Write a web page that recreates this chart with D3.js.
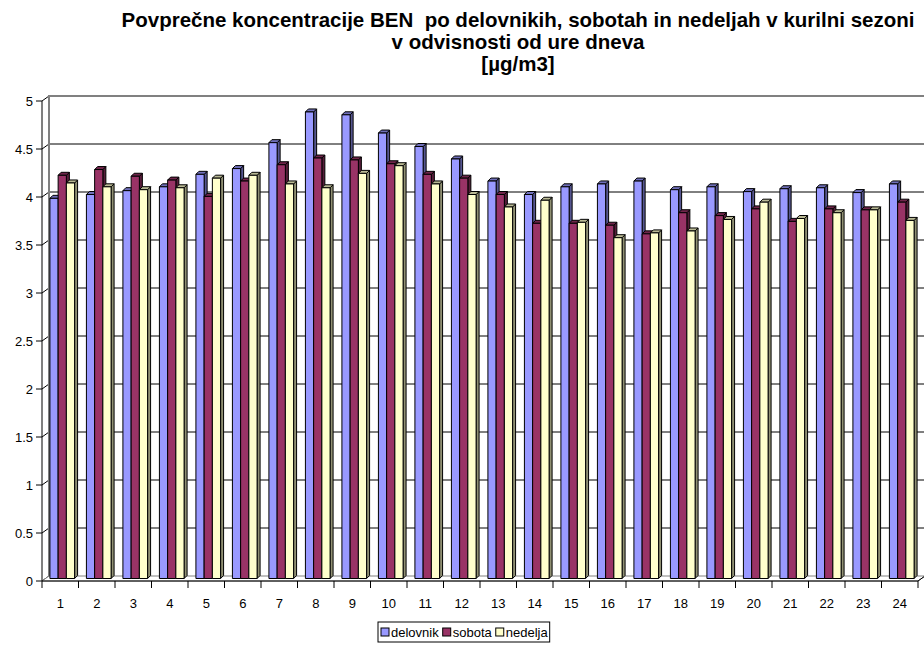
<!DOCTYPE html>
<html><head><meta charset="utf-8">
<script src="https://cdn.jsdelivr.net/npm/d3@7/dist/d3.min.js"></script>
<style>body{margin:0;background:#fff}svg{display:block;font-family:"Liberation Sans",Arial,sans-serif}</style>
</head><body><svg id="c" width="924" height="648"></svg>
<script>
const hours = ["1","2","3","4","5","6","7","8","9","10","11","12","13","14","15","16","17","18","19","20","21","22","23","24"];
const seriesNames = ["delovnik","sobota","nedelja"];
const delovnik = [3.96,4.00,4.04,4.08,4.21,4.27,4.54,4.86,4.83,4.64,4.50,4.37,4.14,4.00,4.08,4.11,4.14,4.05,4.08,4.03,4.06,4.07,4.02,4.11];
const sobota   = [4.20,4.26,4.19,4.15,3.98,4.14,4.31,4.38,4.36,4.32,4.21,4.17,4.00,3.70,3.70,3.68,3.59,3.81,3.78,3.85,3.72,3.85,3.84,3.92];
const nedelja  = [4.12,4.08,4.05,4.07,4.17,4.20,4.11,4.07,4.22,4.30,4.11,4.00,3.87,3.94,3.71,3.55,3.60,3.62,3.74,3.92,3.75,3.81,3.84,3.73];
const yTicks = [0,0.5,1,1.5,2,2.5,3,3.5,4,4.5,5];
const colors = ["#9999FF","#993366","#FFFFCC"];
const titleLines = ["Povprečne koncentracije BEN  po delovnikih, sobotah in nedeljah v kurilni sezoni","v odvisnosti od ure dneva","[µg/m3]"];

const svg = d3.select("#c");
const X0 = 42, X1 = 918, Y0 = 581, Y5 = 101;
const DX = 7, DY = -5;          // full depth of the 3D plot
const BDX = 3, BDY = -3;        // bar depth
const BOFF = 2, BOFFY = -2.5;   // bar front-face offset into depth

const yFront = d3.scaleLinear().domain([0,5]).range([Y0, Y5]);
const yBar = d3.scaleLinear().domain([0,5]).range([Y0 + BOFFY, Y5 + BOFFY]);
const x = d3.scaleBand().domain(hours).range([X0, X1]).padding(0);
const xs = d3.scaleBand().domain(seriesNames).range([0, x.bandwidth()]).paddingInner(0).paddingOuter(0.72);

// title
const tt = svg.append("g").attr("font-weight","bold").attr("font-size",20.5).attr("text-anchor","middle").attr("fill","#000").style("white-space","pre");
titleLines.forEach((t,i)=> tt.append("text").attr("x",518).attr("y",27 + i*22).attr("xml:space","preserve").text(t));

// back wall gridlines
const g = svg.append("g");
yTicks.forEach(v=>{
  const yf = yFront(v);
  g.append("line").attr("x1",X0).attr("y1",yf).attr("x2",X0+DX).attr("y2",yf+DY).attr("stroke","#000").attr("stroke-width",1);
  if (v>0 && v<5) g.append("line").attr("x1",X0+DX).attr("y1",yf+DY).attr("x2",X1+DX).attr("y2",yf+DY).attr("stroke","#000").attr("stroke-width",1);
});
// floor
g.append("path").attr("d",`M${X0},${Y0}L${X1},${Y0}L${X1+DX},${Y0+DY}L${X0+DX},${Y0+DY}Z`).attr("fill","#fff").attr("stroke","#808080").attr("stroke-width",1);
// back wall border
g.append("path").attr("d",`M${X0+DX},${Y0+DY}L${X0+DX},${Y5+DY}L${X1+DX},${Y5+DY}L${X1+DX},${Y0+DY}`).attr("fill","none").attr("stroke","#808080").attr("stroke-width",2);

// bars
const data = [delovnik, sobota, nedelja];
const bars = svg.append("g").attr("stroke","#000").attr("stroke-width",1).attr("stroke-linejoin","round");
hours.forEach((h,i)=>{
  seriesNames.forEach((s,j)=>{
    const v = data[j][i];
    const c = d3.color(colors[j]);
    const xl = x(h) + xs(s) + BOFF, w = xs.bandwidth();
    const yt = yBar(v), yb = yBar(0);
    bars.append("path").attr("d",`M${xl+w},${yb}L${xl+w+BDX},${yb+BDY}L${xl+w+BDX},${yt+BDY}L${xl+w},${yt}Z`).attr("fill",c.darker(1.6));
    bars.append("path").attr("d",`M${xl},${yt}L${xl+BDX},${yt+BDY}L${xl+w+BDX},${yt+BDY}L${xl+w},${yt}Z`).attr("fill",c.darker(0.9));
    bars.append("rect").attr("x",xl).attr("y",yt).attr("width",w).attr("height",yb-yt).attr("fill",colors[j]);
  });
});

// front axes
const ax = svg.append("g").attr("font-size",13).attr("fill","#000");
ax.append("line").attr("x1",X0).attr("y1",Y5).attr("x2",X0).attr("y2",Y0).attr("stroke","#000");
yTicks.forEach(v=>{
  const yf = yFront(v);
  ax.append("line").attr("x1",X0-6).attr("y1",yf).attr("x2",X0).attr("y2",yf).attr("stroke","#000");
  ax.append("text").attr("x",X0-9).attr("y",yf+4.5).attr("text-anchor","end").text(d3.format("")(v));
});
ax.append("line").attr("x1",X0).attr("y1",Y0).attr("x2",X1).attr("y2",Y0).attr("stroke","#000");
ax.append("line").attr("x1",X1).attr("y1",Y0).attr("x2",X1+DX).attr("y2",Y0+DY).attr("stroke","#000");
hours.forEach((h,i)=>{
  ax.append("line").attr("x1",x(h)).attr("y1",Y0).attr("x2",x(h)).attr("y2",Y0+7).attr("stroke","#000");
  ax.append("text").attr("x",x(h)+x.bandwidth()/2).attr("y",Y0+27).attr("text-anchor","middle").text(h);
});
ax.append("line").attr("x1",X1).attr("y1",Y0).attr("x2",X1).attr("y2",Y0+7).attr("stroke","#000");

// legend
const lg = svg.append("g").attr("font-size",13);
const lx = 378, ly = 622;
let cx = lx + 3;
seriesNames.forEach((s,j)=>{
  const it = lg.append("g");
  it.append("rect").attr("x",cx).attr("y",ly+6).attr("width",8).attr("height",8).attr("fill",colors[j]).attr("stroke","#000");
  const t = it.append("text").attr("x",cx+10).attr("y",ly+15).text(s);
  cx += 10 + t.node().getComputedTextLength() + 4;
});
lg.insert("rect",":first-child").attr("x",lx).attr("y",ly).attr("width",cx-lx-2).attr("height",20).attr("fill","#fff").attr("stroke","#000");
</script></body></html>
